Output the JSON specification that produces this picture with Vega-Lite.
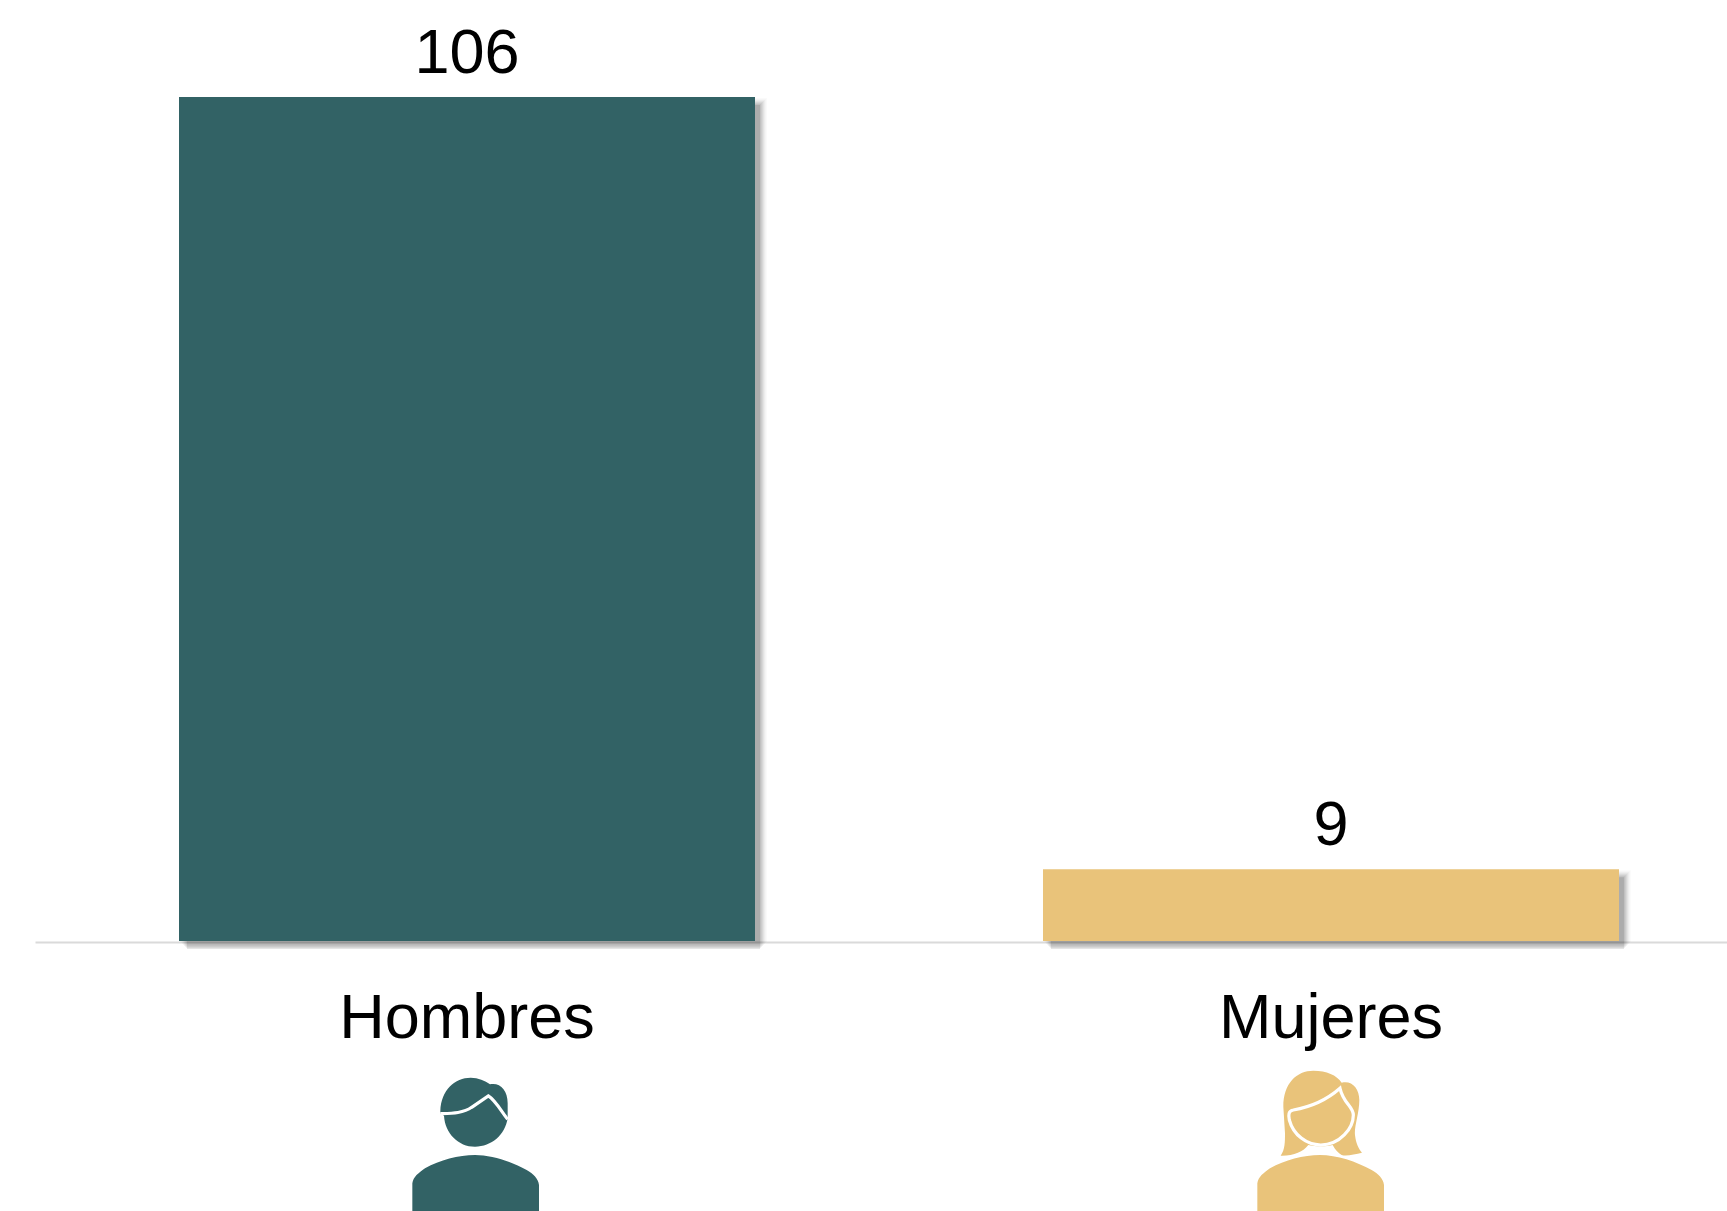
{"$schema":"https://vega.github.io/schema/vega-lite/v6.json","width":1692,"height":844,"autosize":"none","padding":{"left":35,"top":97,"right":0,"bottom":270},"background":"white","config":{"view":{"stroke":null}},"data":{"values":[{"sexo":"Hombres","casos":106},{"sexo":"Mujeres","casos":9}]},"encoding":{"x":{"field":"sexo","type":"nominal","sort":null,"scale":{"range":[0,1728],"paddingInner":0.33333,"paddingOuter":0.16667},"axis":{"title":null,"ticks":false,"grid":false,"labelAngle":0,"labelFont":"Liberation Sans","labelFontSize":63,"labelColor":"#000000","labelPadding":95,"labelBaseline":"alphabetic","labelAlign":"center","labelOverlap":false,"labelFlush":false,"labelLimit":0,"domainColor":"#DADADA","domainWidth":2,"offset":1}},"y":{"field":"casos","type":"quantitative","scale":{"domain":[0,106],"range":[844,0]},"axis":null}},"layer":[{"mark":{"type":"bar","fill":"#000000","opacity":0.02,"width":587,"xOffset":6.5,"yOffset":1,"y2Offset":4}},{"mark":{"type":"bar","fill":"#000000","opacity":0.02,"width":585,"xOffset":6.5,"yOffset":2,"y2Offset":4}},{"mark":{"type":"bar","fill":"#000000","opacity":0.03,"width":583,"xOffset":6.5,"yOffset":3,"y2Offset":3}},{"mark":{"type":"bar","fill":"#000000","opacity":0.04,"width":581,"xOffset":6.5,"yOffset":4,"y2Offset":3}},{"mark":{"type":"bar","fill":"#000000","opacity":0.05,"width":579,"xOffset":6.5,"yOffset":5,"y2Offset":2}},{"mark":{"type":"bar","fill":"#000000","opacity":0.05,"width":577,"xOffset":6.5,"yOffset":6,"y2Offset":2}},{"mark":{"type":"bar","fill":"#000000","opacity":0.06,"width":575,"xOffset":6.5,"yOffset":7,"y2Offset":1}},{"mark":{"type":"bar","fill":"#000000","opacity":0.1,"width":573,"xOffset":6.5,"yOffset":8,"y2Offset":1}},{"mark":{"type":"bar"},"encoding":{"color":{"field":"sexo","type":"nominal","legend":null,"scale":{"domain":["Hombres","Mujeres"],"range":["#326265","#E9C37A"]}}}},{"mark":{"type":"text","font":"Liberation Sans","fontSize":63,"color":"#000000","baseline":"alphabetic","align":"center","dy":-24},"encoding":{"text":{"field":"casos","type":"quantitative"}}},{"mark":{"type":"point","filled":true,"size":0.4444,"opacity":1},"encoding":{"y":{"datum":0},"color":{"field":"sexo","type":"nominal","legend":null},"shape":{"field":"sexo","type":"nominal","legend":null,"scale":{"domain":["Hombres","Mujeres"],"range":["M-80,510 C-78,447 -36,410 11,410 C34,410 54,419 69,430 C99,424 122,447 122,487 L122,532 C114,582 74,617 24,617 C-26,617 -66,577 -69,524 L-80,517 Z M-164,810 L-164,727 C-161,707 -146,697 -126,682 C-81,657 -26,642 24,642 C74,642 134,662 179,687 C199,699 214,712 216,732 L216,810 Z","M-151,644 C-138,627 -138,602 -138,577 L-143,497 C-143,427 -103,389 -53,389 C-13,389 17,402 32,425 C62,417 85,442 85,477 C85,517 69,557 72,582 C75,607 82,622 93,635 C72,639 47,647 32,642 C22,637 12,625 5,612 C-13,617 -48,617 -68,612 C-83,632 -113,645 -151,644 Z M-221,810 L-221,727 C-218,707 -203,697 -183,682 C-138,657 -83,642 -33,642 C17,642 77,662 122,687 C142,699 157,712 159,732 L159,810 Z"]}}}},{"mark":{"type":"point","filled":false,"size":0.4444,"opacity":1,"stroke":"#FFFFFF","strokeWidth":3.2},"encoding":{"y":{"datum":0},"shape":{"field":"sexo","type":"nominal","legend":null,"scale":{"domain":["Hombres","Mujeres"],"range":["M-80,518 C-46,517 -11,517 14,499 L64,465 C84,477 104,512 122,535","M27,442 C-13,477 -53,497 -113,507 C-128,509 -128,522 -125,537 C-113,582 -73,612 -31,612 C27,612 67,562 67,522 C67,497 37,487 27,442 Z"]}}}}],"resolve":{"scale":{"shape":"independent"}}}
